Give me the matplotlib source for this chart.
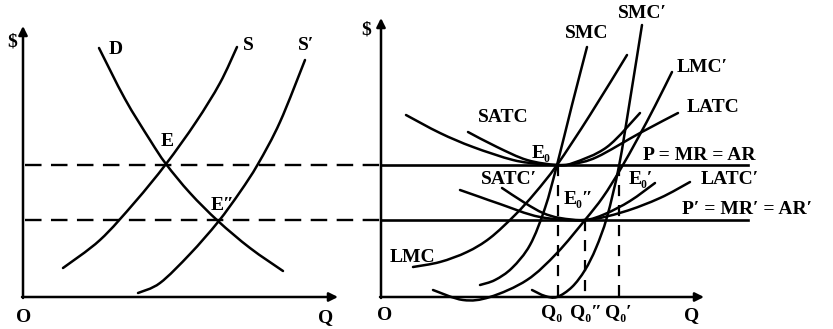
import matplotlib.pyplot as plt
from matplotlib.path import Path
from matplotlib.patches import PathPatch

# fonts: bold serif like the textbook figure
plt.rcParams['font.family'] = ['Liberation Serif', 'DejaVu Serif']
plt.rcParams['font.weight'] = 'bold'

# ---- data (positions, in pixel units, y grows downward) ----
# left panel: market
d_x = [99, 125, 150, 166, 190, 218, 250, 283]
d_y = [48, 99, 140, 164, 193, 221, 248, 271]
s_x = [63, 100, 135, 166, 196, 220, 237]
s_y = [268, 240, 202, 164, 122, 83, 47]
s2_x = [138, 160, 190, 218, 240, 258, 280, 305]
s2_y = [293, 283, 254, 222, 192, 164, 122, 60]

# right panel: firm
latc_x = [406, 440, 473, 513, 540, 557, 573, 597, 640, 678]
latc_y = [115, 133, 147, 160, 164, 165, 164, 157, 133, 113]
satc_x = [468, 497, 527, 557, 573, 607, 640]
satc_y = [132, 147, 160, 165, 163, 147, 113]
smc_x = [587, 572, 557, 545, 530, 512, 495, 480]
smc_y = [47, 105, 165, 208, 245, 268, 280, 285]
lmc_x = [413, 440, 467, 490, 515, 535, 557, 590, 627]
lmc_y = [267, 262, 252, 238, 215, 193, 165, 115, 55]
smc2_x = [532, 545, 557, 572, 585, 596, 607, 619, 630, 642]
smc2_y = [290, 296, 297, 287, 270, 248, 217, 166, 100, 25]
lmc2_x = [433, 463, 490, 527, 557, 585, 603, 620, 638, 655, 672]
lmc2_y = [290, 300, 297, 280, 253, 220, 197, 170, 138, 106, 72]
satc2_x = [502, 525, 543, 560, 585, 605, 630, 655]
satc2_y = [188, 203, 213, 218, 220, 214, 201, 183]
latc2_x = [460, 480, 500, 540, 585, 623, 660, 690]
latc2_y = [190, 197, 204, 217, 220, 212, 198, 182]

price_levels = [165, 220]
q_marks = [558, 585, 619]
q_tops = [165, 220, 165]
q_labels = ['Q₀', 'Q₀″', 'Q₀′']
q_label_x = [552, 586, 618]


def smooth(ax, xs, ys, lw=1.8):
    # Catmull-Rom through the read points, drawn as cubic bezier segments
    pts = list(zip(xs, ys))
    verts = [pts[0]]
    codes = [Path.MOVETO]
    n = len(pts)
    for i in range(n - 1):
        p0 = pts[max(i - 1, 0)]
        p1 = pts[i]
        p2 = pts[i + 1]
        p3 = pts[min(i + 2, n - 1)]
        c1 = (p1[0] + (p2[0] - p0[0]) / 6, p1[1] + (p2[1] - p0[1]) / 6)
        c2 = (p2[0] - (p3[0] - p1[0]) / 6, p2[1] - (p3[1] - p1[1]) / 6)
        verts += [c1, c2, p2]
        codes += [Path.CURVE4] * 3
    ax.add_patch(PathPatch(Path(verts, codes), fill=False, lw=lw,
                           color='black', capstyle='round'))


def axis_arrow(ax, x0, y0, x1, y1):
    ax.annotate('', xy=(x1, y1), xytext=(x0, y0),
                arrowprops=dict(arrowstyle='-|>', lw=1.8, color='black',
                                mutation_scale=13, shrinkA=0, shrinkB=0))


fig = plt.figure(figsize=(8.33, 3.29), dpi=100)
ax = fig.add_axes([0, 0, 1, 1])
ax.set_xlim(0, 833)
ax.set_ylim(329, 0)
ax.axis('off')

# axes of both panels
axis_arrow(ax, 23, 298, 23, 26)
axis_arrow(ax, 22, 297, 338, 297)
axis_arrow(ax, 381, 298, 381, 18)
axis_arrow(ax, 380, 297, 704, 297)

# price lines: dashed across the market panel, solid in the firm panel
for y in price_levels:
    ax.plot([25, 381], [y, y], color='black', lw=1.7, ls=(0, (7, 4)))
    ax.plot([381, 748], [y, y], color='black', lw=1.9)

# quantity guides
for x, top in zip(q_marks, q_tops):
    ax.plot([x, x], [top, 297], color='black', lw=1.6, ls=(0, (5, 4)))

# curves
for xs, ys in [(d_x, d_y), (s_x, s_y), (s2_x, s2_y),
               (latc_x, latc_y), (satc_x, satc_y), (smc_x, smc_y),
               (lmc_x, lmc_y), (smc2_x, smc2_y), (lmc2_x, lmc2_y),
               (satc2_x, satc2_y), (latc2_x, latc2_y)]:
    smooth(ax, xs, ys)

fs = 14
labels = [
    ('$', 12, 42), ('D', 116, 50), ('S', 248, 45), ('S′', 306, 46),
    ('E', 167, 141), ('E″', 223, 206), ('O', 24, 318), ('Q', 326, 318),
    ('$', 366, 30), ('O', 385, 315), ('Q', 692, 316),
    ('SMC', 587, 33), ('SMC′', 642, 13), ('LMC′', 702, 67),
    ('LATC', 713, 108), ('SATC', 503, 118), ('E₀', 541, 153),
    ('P = MR = AR', 699, 155), ('SATC′', 509, 180), ('E₀′', 641, 180),
    ('E₀″', 578, 200), ('LATC′', 730, 180), ('P′ = MR′ = AR′', 747, 210),
    ('LMC', 412, 257),
]
for txt, x, y in labels:
    ax.text(x, y, txt, fontsize=fs, fontweight='bold', ha='center', va='center')

for txt, x in zip(q_labels, q_label_x):
    ax.text(x, 313, txt, fontsize=fs, fontweight='bold', ha='center', va='center')

fig.savefig('out.png', dpi=100)
